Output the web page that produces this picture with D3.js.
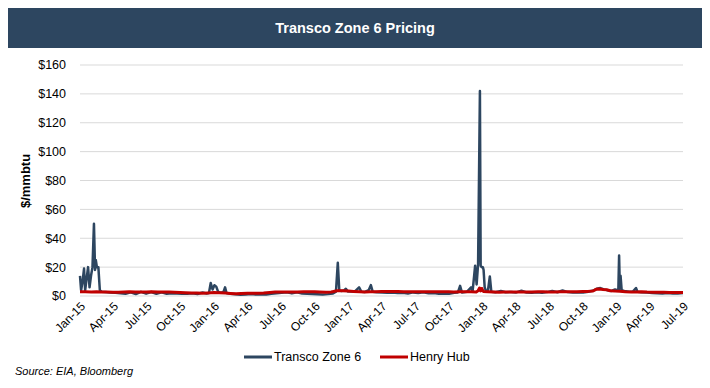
<!DOCTYPE html>
<html lang="en">
<head>
<meta charset="UTF-8">
<script src="https://d3js.org/d3.v7.min.js"></script>
<title>Transco Zone 6 Pricing</title>
<style>
  body { margin: 0; background: #fff; }
  text { font-family: "Liberation Sans", Arial, sans-serif; fill: #000; }
</style>
</head>
<body>
<div id="chart"></div>
<script>
    // Transco Zone 6 ($/mmbtu)
    const transcoDates = [
        "2015-01-01","2015-01-04","2015-01-08","2015-01-12","2015-01-15","2015-01-19","2015-01-23","2015-01-27","2015-01-31",
        "2015-02-04","2015-02-08","2015-02-11","2015-02-13","2015-02-16","2015-02-20","2015-02-24","2015-03-01","2015-03-10",
        "2015-03-24","2015-04-07","2015-04-21","2015-05-05","2015-05-19","2015-06-02","2015-06-16","2015-06-30","2015-07-14",
        "2015-07-28","2015-08-11","2015-08-25","2015-09-08","2015-09-22","2015-10-06","2015-10-20","2015-11-03","2015-11-17",
        "2015-12-01","2015-12-12","2015-12-18","2015-12-23","2015-12-28",
        "2016-01-02","2016-01-07","2016-01-12","2016-01-20","2016-01-27","2016-01-31","2016-02-04","2016-02-14","2016-02-28",
        "2016-03-13","2016-03-27","2016-04-10","2016-04-24","2016-05-08","2016-05-22","2016-06-05","2016-06-19","2016-07-03",
        "2016-07-17","2016-07-31","2016-08-14","2016-08-28","2016-09-11","2016-09-25","2016-10-09","2016-10-23","2016-11-06",
        "2016-11-20","2016-11-28","2016-12-03","2016-12-07","2016-12-13","2016-12-20","2016-12-25","2016-12-30",
        "2017-01-08","2017-01-18","2017-01-30","2017-02-05","2017-02-15","2017-02-25","2017-03-03","2017-03-08","2017-03-20",
        "2017-04-03","2017-04-17","2017-05-01","2017-05-15","2017-05-29","2017-06-12","2017-06-26","2017-07-10","2017-07-24",
        "2017-08-07","2017-08-21","2017-09-04","2017-09-18","2017-10-02","2017-10-16","2017-10-26","2017-11-01","2017-11-06",
        "2017-11-20","2017-12-01","2017-12-05","2017-12-12","2017-12-16","2017-12-20","2017-12-25","2017-12-27","2017-12-30",
        "2018-01-02","2018-01-04","2018-01-07","2018-01-11","2018-01-16","2018-01-21","2018-01-25","2018-02-05","2018-02-20",
        "2018-03-05","2018-03-20","2018-04-03","2018-04-17","2018-05-01","2018-05-15","2018-05-29","2018-06-12","2018-06-26",
        "2018-07-10","2018-07-24","2018-08-07","2018-08-21","2018-09-04","2018-09-18","2018-10-02","2018-10-16","2018-10-30",
        "2018-11-08","2018-11-18","2018-11-28","2018-12-08","2018-12-18","2018-12-28",
        "2019-01-03","2019-01-06","2019-01-08","2019-01-10","2019-01-12","2019-01-15","2019-01-22","2019-02-05","2019-02-15",
        "2019-02-23","2019-02-27","2019-03-10","2019-03-25","2019-04-08","2019-04-22","2019-05-06","2019-05-20","2019-06-03",
        "2019-06-17","2019-07-01"
    ];
    const transcoValues = [
        14, 4, 10, 19, 4, 12, 20, 6, 14,
        20, 50, 18, 25, 20, 20, 4, 3, 2.8,
        2.4, 2.2, 1.9, 1.6, 2.6, 1.4, 2.9, 1.6, 2.8,
        1.5, 2.6, 1.6, 1.9, 1.7, 1.5, 1.6, 1.9, 1.4,
        2.4, 1.7, 2.0, 9, 4.5,
        7.5, 6.5, 3, 2.2, 3, 6, 2, 1.5, 1.2,
        0.9, 1.1, 1.3, 1.0, 1.2, 1.0, 1.5, 1.9, 2.2,
        2.6, 1.8, 2.6, 1.7, 1.5, 1.4, 1.2, 1.0, 1.3,
        1.8, 3.0, 23, 4, 3.5, 3.8, 5, 3.2,
        3.3, 3.0, 6, 3, 2.8, 4, 7.5, 3, 2.6,
        2.4, 2.2, 2.5, 2.0, 2.3, 1.8, 2.5, 2.1, 2.6,
        1.9, 2.0, 1.6, 1.7, 1.5, 2.2, 2.5, 7, 2.5,
        3, 6, 3, 21, 8, 22, 142, 21, 20,
        20, 18, 6, 3, 4, 13.5, 3, 2.6, 3.5,
        2.6, 2.8, 2.5, 3.6, 2.4, 2.2, 2.6, 2.3, 2.7,
        3.5, 2.6, 3.8, 2.7, 2.5, 2.6, 2.4, 2.9, 3.8,
        5, 5.5, 4.6, 4, 3.5, 4.5,
        4, 5, 28, 5, 14, 4, 3.5, 3, 3.2,
        5.5, 3, 2.6, 2.4, 2.1, 1.9, 1.8, 2.0, 1.8,
        1.7, 2.0
    ];

    // Henry Hub ($/mmbtu)
    const henryDates = [
        "2015-01-01","2015-01-15","2015-02-01","2015-02-15","2015-03-01","2015-03-15","2015-04-01","2015-04-15","2015-05-01",
        "2015-05-15","2015-06-01","2015-06-15","2015-07-01","2015-07-15","2015-08-01","2015-08-15","2015-09-01","2015-09-15",
        "2015-10-01","2015-10-15","2015-11-01","2015-11-15","2015-12-01","2015-12-15",
        "2016-01-01","2016-01-15","2016-02-01","2016-02-15","2016-03-01","2016-03-15","2016-04-01","2016-04-15","2016-05-01",
        "2016-05-15","2016-06-01","2016-06-15","2016-07-01","2016-07-15","2016-08-01","2016-08-15","2016-09-01","2016-09-15",
        "2016-10-01","2016-10-15","2016-11-01","2016-11-15","2016-12-01","2016-12-15",
        "2017-01-01","2017-01-15","2017-02-01","2017-02-15","2017-03-01","2017-03-15","2017-04-01","2017-04-15","2017-05-01",
        "2017-05-15","2017-06-01","2017-06-15","2017-07-01","2017-07-15","2017-08-01","2017-08-15","2017-09-01","2017-09-15",
        "2017-10-01","2017-10-15","2017-11-01","2017-11-15","2017-12-01","2017-12-15","2017-12-20","2017-12-24","2017-12-27",
        "2017-12-30",
        "2018-01-03","2018-01-15","2018-02-01","2018-02-15","2018-03-01","2018-03-15","2018-04-01","2018-04-15","2018-05-01",
        "2018-05-15","2018-06-01","2018-06-15","2018-07-01","2018-07-15","2018-08-01","2018-08-15","2018-09-01","2018-09-15",
        "2018-10-01","2018-10-15","2018-10-29","2018-11-06","2018-11-15","2018-11-25","2018-12-05","2018-12-15","2018-12-28",
        "2019-01-10","2019-01-25","2019-02-10","2019-02-25","2019-03-10","2019-03-25","2019-04-10","2019-04-25","2019-05-10",
        "2019-05-25","2019-06-10","2019-07-01"
    ];
    const henryValues = [
        3.0, 2.9, 2.8, 3.0, 2.8, 2.8, 2.6, 2.6, 2.8,
        2.9, 2.8, 2.8, 2.8, 2.9, 2.8, 2.7, 2.7, 2.6,
        2.4, 2.3, 2.1, 2.1, 1.9, 2.1,
        2.4, 2.2, 2.0, 1.8, 1.6, 1.7, 1.9, 1.9, 1.9,
        2.0, 2.5, 2.7, 2.8, 2.8, 2.7, 2.7, 2.9, 3.0,
        2.9, 2.8, 2.6, 2.8, 3.6, 3.7,
        3.4, 3.2, 3.0, 2.7, 2.9, 3.0, 3.1, 3.2, 3.2,
        3.1, 3.0, 2.9, 3.0, 2.9, 2.9, 2.9, 3.0, 3.0,
        2.9, 2.8, 3.0, 3.0, 2.9, 2.8, 3.6, 5.5, 3.5,
        5.2,
        3.2, 3.0, 2.8, 2.6, 2.7, 2.7, 2.7, 2.8, 2.8,
        2.8, 2.9, 2.9, 2.8, 2.8, 2.9, 2.9, 2.9, 3.0,
        3.1, 3.2, 3.5, 4.6, 4.8, 4.5, 4.3, 3.6, 3.4,
        3.3, 2.9, 2.7, 2.8, 2.9, 2.7, 2.6, 2.6, 2.6,
        2.5, 2.4, 2.4
    ];

    const yTicks = [0, 20, 40, 60, 80, 100, 120, 140, 160];
    const seriesNames = ["Transco Zone 6", "Henry Hub"];
    const seriesColors = ["#2d4660", "#c00000"];

    const width = 710;
    const height = 388;
    const parse = d3.timeParse("%Y-%m-%d");

    const transco = transcoDates.map((d, i) => ({ date: parse(d), value: transcoValues[i] }));
    const henry = henryDates.map((d, i) => ({ date: parse(d), value: henryValues[i] }));

    const svg = d3.select("#chart")
        .append("svg")
        .attr("width", width)
        .attr("height", height);

    svg.append("rect").attr("width", width).attr("height", height).attr("fill", "#fff");

    // title bar
    svg.append("rect")
        .attr("x", 8).attr("y", 8)
        .attr("width", 694).attr("height", 40)
        .attr("fill", "#2d4660");
    svg.append("text")
        .attr("x", 355).attr("y", 33)
        .attr("text-anchor", "middle")
        .style("fill", "#fff")
        .style("font-weight", "bold")
        .style("font-size", "14.5px")
        .text("Transco Zone 6 Pricing");

    const x = d3.scaleTime()
        .domain([parse("2015-01-01"), parse("2019-07-01")])
        .range([80, 683]);
    const y = d3.scaleLinear()
        .domain([0, 160])
        .range([296, 65]);

    // gridlines
    svg.append("g")
        .selectAll("line")
        .data(yTicks)
        .enter().append("line")
        .attr("x1", 80).attr("x2", 683)
        .attr("y1", d => y(d)).attr("y2", d => y(d))
        .attr("stroke", "#d9d9d9")
        .attr("stroke-width", 1);

    // y axis labels
    svg.append("g")
        .selectAll("text")
        .data(yTicks)
        .enter().append("text")
        .attr("x", 66)
        .attr("y", d => y(d))
        .attr("dy", "0.35em")
        .attr("text-anchor", "end")
        .style("font-size", "12.5px")
        .text(d => "$" + d);

    svg.append("text")
        .attr("transform", "translate(30,181) rotate(-90)")
        .attr("text-anchor", "middle")
        .style("font-size", "13px")
        .style("font-weight", "bold")
        .text("$/mmbtu");

    // x axis labels, every quarter
    const xTicks = d3.timeMonth.every(3).range(parse("2015-01-01"), parse("2019-07-02"));
    const fmt = d3.timeFormat("%b-%y");
    svg.append("g")
        .selectAll("text")
        .data(xTicks)
        .enter().append("text")
        .attr("transform", d => `translate(${x(d) + 3},${304}) rotate(-45)`)
        .attr("text-anchor", "end")
        .attr("dy", "0.35em")
        .style("font-size", "12px")
        .text(d => fmt(d));

    const line = d3.line()
        .x(d => x(d.date))
        .y(d => y(d.value));

    svg.append("path")
        .datum(transco)
        .attr("fill", "none")
        .attr("stroke", seriesColors[0])
        .attr("stroke-width", 2.5)
        .attr("stroke-linejoin", "round")
        .attr("d", line);

    svg.append("path")
        .datum(henry)
        .attr("fill", "none")
        .attr("stroke", seriesColors[1])
        .attr("stroke-width", 3)
        .attr("stroke-linejoin", "round")
        .attr("d", line);

    // legend
    const legendX = [244, 380];
    const legend = svg.append("g")
        .selectAll("g")
        .data(seriesNames)
        .enter().append("g")
        .attr("transform", (d, i) => `translate(${legendX[i]},357)`);
    legend.append("line")
        .attr("x1", 0).attr("x2", 28)
        .attr("stroke", (d, i) => seriesColors[i])
        .attr("stroke-width", 3);
    legend.append("text")
        .attr("x", 30)
        .attr("dy", "0.35em")
        .style("font-size", "12.5px")
        .text(d => d);

    svg.append("text")
        .attr("x", 15).attr("y", 375)
        .style("font-size", "11px")
        .style("font-style", "italic")
        .text("Source: EIA, Bloomberg");
</script>
</body>
</html>
